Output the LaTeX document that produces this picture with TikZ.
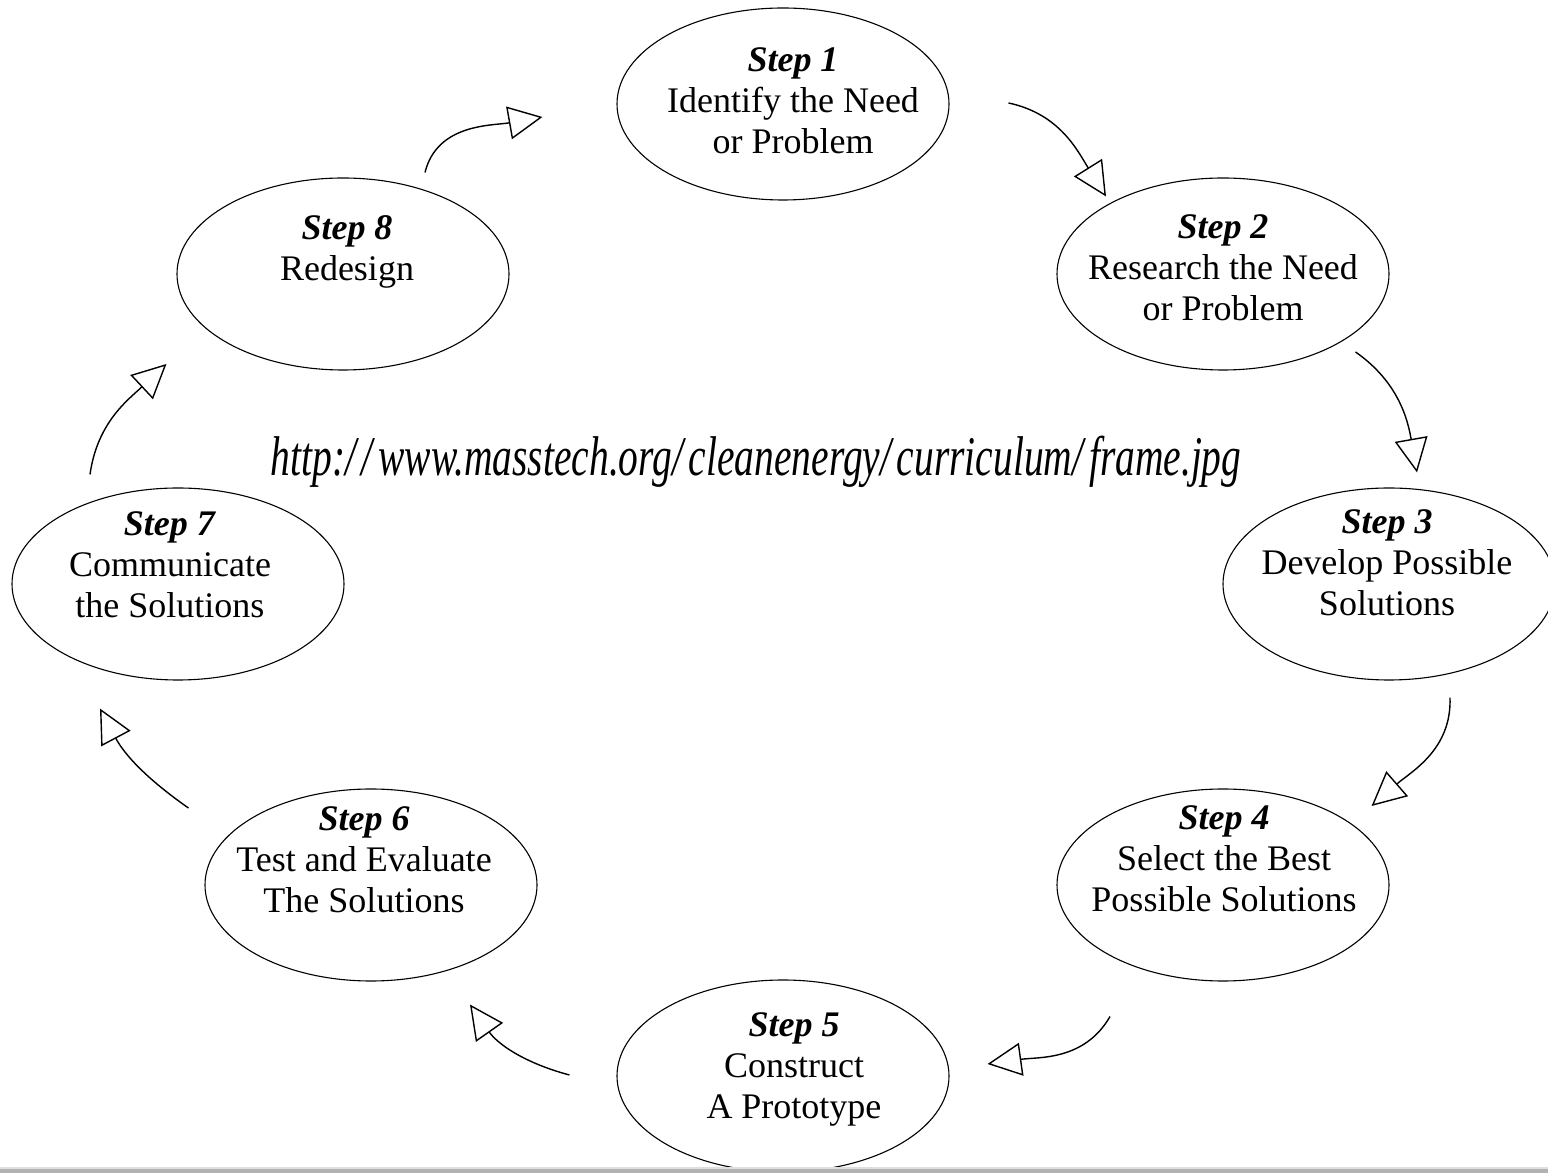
\documentclass[tikz,border=0pt]{standalone}
\usepackage{fontspec}
\usepackage{graphicx}
\setmainfont{Liberation Serif}
\usetikzlibrary{shapes.geometric, arrows.meta}
\newcommand{\slashgap}{/\kern8pt}
\begin{document}
\begin{tikzpicture}[x=1pt, y=1pt,
    stage/.style={draw, ellipse, line width=1.1pt, minimum width=332pt, minimum height=192pt, inner sep=0pt},
    stagetext/.style={align=center, font=\fontsize{36}{41}\selectfont},
    cyclearrow/.style={line width=1.4pt, -{Triangle[open, length=34pt, width=33pt]}}]
    \useasboundingbox (0,0) rectangle (1548,1173);
    \clip (0,0) rectangle (1548,1173);
    \fill[white] (0,0) rectangle (1548,1173);

    % Ellipses of the eight steps
    \node[stage] (s1) at (783,1069) {};
    \node[stage] (s2) at (1223,899) {};
    \node[stage] (s3) at (1389,589) {};
    \node[stage] (s4) at (1223,288) {};
    \node[stage] (s5) at (783,97) {};
    \node[stage] (s6) at (371,288) {};
    \node[stage] (s7) at (178,589) {};
    \node[stage] (s8) at (343,899) {};

    % Texts of the steps
    \node[stagetext] (t1) at ([shift={(10,3)}]s1.center) {\textbf{\textit{Step 1}}\\Identify the Need\\or Problem};
    \node[stagetext] (t2) at ([shift={(0,6)}]s2.center) {\textbf{\textit{Step 2}}\\Research the Need\\or Problem};
    \node[stagetext] (t3) at ([shift={(-2,21)}]s3.center) {\textbf{\textit{Step 3}}\\Develop Possible\\Solutions};
    \node[stagetext] (t4) at ([shift={(1,26)}]s4.center) {\textbf{\textit{Step 4}}\\Select the Best\\Possible Solutions};
    \node[stagetext] (t5) at ([shift={(11,7)}]s5.center) {\textbf{\textit{Step 5}}\\Construct\\A Prototype};
    \node[stagetext] (t6) at ([shift={(-7,25)}]s6.center) {\textbf{\textit{Step 6}}\\Test and Evaluate\\The Solutions};
    \node[stagetext] (t7) at ([shift={(-8,19)}]s7.center) {\textbf{\textit{Step 7}}\\Communicate\\the Solutions};
    \node[stagetext] (t8) at ([shift={(4,22)}]s8.center) {\textbf{\textit{Step 8}}\\Redesign};

    % Source address in the middle
    \node[font=\fontsize{56}{62}\selectfont\itshape] (src) at (756,711)
      {\scalebox{0.705}[1]{http:\slashgap\slashgap www.masstech.org\slashgap cleanenergy\slashgap curriculum\slashgap frame.jpg}};

    % Arrows from one step to the next
    \draw[cyclearrow] ([shift={(59,1)}]s1.east) to[out=-12, in=122] ([shift={(-117,-19)}]s2.north);
    \draw[cyclearrow] ([shift={(-34,-78)}]s2.east) to[out=-35, in=100] ([shift={(28,15)}]s3.north);
    \draw[cyclearrow] ([shift={(61,-17)}]s3.south) to[out=-88, in=41] ([shift={(-18,79)}]s4.east);
    \draw[cyclearrow] ([shift={(-113,-35)}]s4.south) to[out=-120, in=8] ([shift={(38,12)}]s5.east);
    \draw[cyclearrow] ([shift={(-47,1)}]s5.west) to[out=165, in=-55] ([shift={(99,-23)}]s6.south);
    \draw[cyclearrow] ([shift={(-16,77)}]s6.west) to[out=145, in=-62] ([shift={(-78,-28)}]s7.south);
    \draw[cyclearrow] ([shift={(-88,13)}]s7.north) to[out=82, in=223] ([shift={(-10,-90)}]s8.west);
    \draw[cyclearrow] ([shift={(82,5)}]s8.north) to[out=76, in=190] ([shift={(-74,-13)}]s1.west);

    % Grey edge at the bottom
    \fill[gray!60] (0,0) rectangle (1548,4);
    \fill[gray!25] (0,4) rectangle (1548,6);
\end{tikzpicture}
\end{document}
